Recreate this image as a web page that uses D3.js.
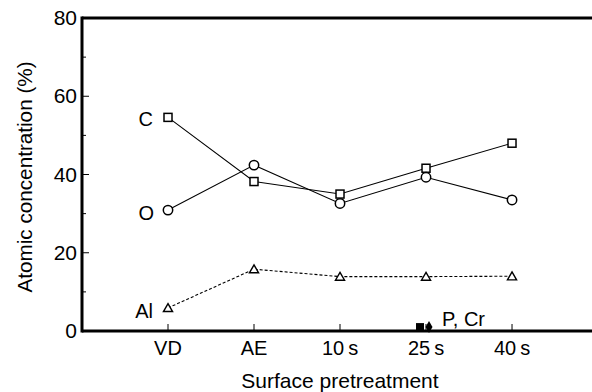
<!DOCTYPE html>
<html>
<head>
<meta charset="utf-8">
<script src="https://cdn.jsdelivr.net/npm/d3@7"></script>
<style>
  body { margin: 0; background: #fff; }
  text { font-family: "Liberation Sans", Arial, sans-serif; fill: #000; }
</style>
</head>
<body>
<div id="chart"></div>
<script>
// categories along x (index 1..5, slot 0 and 6 are empty)
var categories = ["VD", "AE", "10s", "25s", "40s"];
var tickLabels = ["VD", "AE", "10\u2009s", "25\u2009s", "40\u2009s"];

// atomic concentration (%) per element
var carbon = [54.6, 38.2, 35, 41.6, 48];
var oxygen = [30.9, 42.4, 32.6, 39.3, 33.5];
var aluminium = [5.9, 15.8, 13.9, 13.9, 14];

// P and Cr only found after 25 s
var pValue = 1;
var crValue = 1;

var yTicks = [0, 20, 40, 60, 80];
var yMinor = [10, 30, 50, 70];

var width = 592, height = 392;

var svg = d3.select("#chart").append("svg")
    .attr("width", width)
    .attr("height", height);

// scales
var x = d3.scaleLinear().domain([0, 5.93]).range([82, 592]);
var y = d3.scaleLinear().domain([0, 80]).range([331, 18]);

var xIdx = function(i) { return x(i + 1); };

// frame: left, top and bottom lines
svg.append("line")
    .attr("x1", x(0)).attr("x2", x(0))
    .attr("y1", y(80) - 1.5).attr("y2", y(0) + 1.5)
    .attr("stroke", "#000").attr("stroke-width", 3);
svg.append("line")
    .attr("x1", x(0)).attr("x2", width)
    .attr("y1", y(80)).attr("y2", y(80))
    .attr("stroke", "#000").attr("stroke-width", 3);
svg.append("line")
    .attr("x1", x(0)).attr("x2", width)
    .attr("y1", y(0)).attr("y2", y(0))
    .attr("stroke", "#000").attr("stroke-width", 3);

// y ticks (inside)
svg.selectAll(".ytick")
    .data(yTicks.slice(1, 4))
    .enter().append("line")
    .attr("x1", x(0)).attr("x2", x(0) + 7)
    .attr("y1", function(d) { return y(d); })
    .attr("y2", function(d) { return y(d); })
    .attr("stroke", "#000").attr("stroke-width", 1);
svg.selectAll(".yminor")
    .data(yMinor)
    .enter().append("line")
    .attr("x1", x(0)).attr("x2", x(0) + 4)
    .attr("y1", function(d) { return y(d); })
    .attr("y2", function(d) { return y(d); })
    .attr("stroke", "#000").attr("stroke-width", 1);

svg.selectAll(".ylabel")
    .data(yTicks)
    .enter().append("text")
    .attr("x", x(0) - 5)
    .attr("y", function(d) { return y(d) + 7; })
    .attr("text-anchor", "end")
    .style("font-size", "21px")
    .text(function(d) { return d; });

// x ticks (inside)
svg.selectAll(".xtick")
    .data(categories)
    .enter().append("line")
    .attr("x1", function(d, i) { return xIdx(i); })
    .attr("x2", function(d, i) { return xIdx(i); })
    .attr("y1", y(0)).attr("y2", y(0) - 7)
    .attr("stroke", "#000").attr("stroke-width", 1);

svg.selectAll(".xlabel")
    .data(tickLabels)
    .enter().append("text")
    .attr("x", function(d, i) { return xIdx(i); })
    .attr("y", 355)
    .attr("text-anchor", "middle")
    .style("font-size", "20px")
    .text(function(d) { return d; });

// axis titles
svg.append("text")
    .attr("x", 340).attr("y", 388)
    .attr("text-anchor", "middle")
    .style("font-size", "21px")
    .text("Surface pretreatment");

svg.append("text")
    .attr("transform", "translate(32,177) rotate(-90)")
    .attr("text-anchor", "middle")
    .style("font-size", "20.7px")
    .text("Atomic concentration (%)");

// lines
var line = d3.line()
    .x(function(d, i) { return xIdx(i); })
    .y(function(d) { return y(d); });

svg.append("path").datum(carbon)
    .attr("d", line).attr("fill", "none")
    .attr("stroke", "#000").attr("stroke-width", 1.1);
svg.append("path").datum(oxygen)
    .attr("d", line).attr("fill", "none")
    .attr("stroke", "#000").attr("stroke-width", 1.1);
svg.append("path").datum(aluminium)
    .attr("d", line).attr("fill", "none")
    .attr("stroke", "#000").attr("stroke-width", 1.1)
    .attr("stroke-dasharray", "3,2");

// markers
svg.selectAll(".sq")
    .data(carbon)
    .enter().append("rect")
    .attr("x", function(d, i) { return xIdx(i) - 4; })
    .attr("y", function(d) { return y(d) - 4; })
    .attr("width", 8).attr("height", 8)
    .attr("fill", "#fff").attr("stroke", "#000").attr("stroke-width", 1.5);

svg.selectAll(".ci")
    .data(oxygen)
    .enter().append("circle")
    .attr("cx", function(d, i) { return xIdx(i); })
    .attr("cy", function(d) { return y(d); })
    .attr("r", 4.7)
    .attr("fill", "#fff").attr("stroke", "#000").attr("stroke-width", 1.5);

var tri = d3.symbol().type(d3.symbolTriangle).size(36);
svg.selectAll(".tr")
    .data(aluminium)
    .enter().append("path")
    .attr("d", tri)
    .attr("transform", function(d, i) { return "translate(" + xIdx(i) + "," + (y(d) + 1) + ")"; })
    .attr("fill", "#fff").attr("stroke", "#000").attr("stroke-width", 1.4);

// P (filled square) and Cr (filled diamond) at 25 s
svg.append("rect")
    .attr("x", xIdx(3) - 10).attr("y", y(pValue) - 4)
    .attr("width", 8).attr("height", 8)
    .attr("fill", "#000");
svg.append("path")
    .attr("d", d3.symbol().type(d3.symbolDiamond).size(42))
    .attr("transform", "translate(" + (xIdx(3) + 3) + "," + y(crValue) + ")")
    .attr("fill", "#000");

// series labels
svg.append("text").attr("x", xIdx(0) - 15).attr("y", y(carbon[0]) + 9)
    .attr("text-anchor", "end").style("font-size", "20px").text("C");
svg.append("text").attr("x", xIdx(0) - 14).attr("y", y(oxygen[0]) + 10)
    .attr("text-anchor", "end").style("font-size", "20px").text("O");
svg.append("text").attr("x", xIdx(0) - 15).attr("y", y(aluminium[0]) + 10)
    .attr("text-anchor", "end").style("font-size", "20px").text("Al");
svg.append("text").attr("x", xIdx(3) + 16).attr("y", y(0) - 5)
    .attr("text-anchor", "start").style("font-size", "20px").text("P, Cr");
</script>
</body>
</html>
